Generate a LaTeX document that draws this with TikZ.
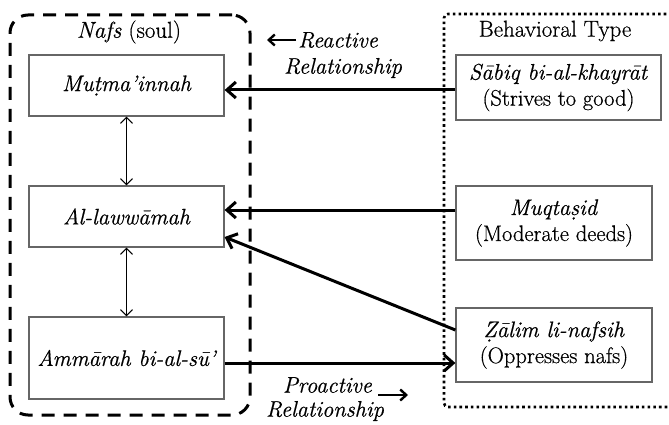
\documentclass[tikz,border=0pt]{standalone}
\usepackage{fontspec}
\setmainfont{Latin Modern Roman}[FakeBold=0.6]
\usetikzlibrary{arrows.meta}
\begin{document}
\begin{tikzpicture}[x=1pt,y=-1pt,
  txt/.style={font=\fontsize{23}{26}\selectfont, inner sep=0pt, align=center},
  soulbox/.style={draw=black!60, line width=1.2pt, minimum width=195pt, inner sep=0pt,
    font=\fontsize{22.5}{25}\selectfont\itshape, align=center},
  typebox/.style={draw=black!60, line width=1.2pt, minimum width=196pt, minimum height=74pt,
    inner sep=0pt, font=\fontsize{22.5}{26}\selectfont, align=center},
  strong/.style={line width=3pt, -{Straight Barb[length=9pt,width=16pt,line width=3pt]}},
  thin/.style={line width=1.1pt, {Straight Barb[length=6pt,width=12pt]}-{Straight Barb[length=6pt,width=12pt]}},
  nafsframe/.style={draw, line width=3pt, dash pattern=on 13pt off 9pt, rounded corners=18pt,
    minimum width=240pt, minimum height=400pt},
  typeframe/.style={line width=2.6pt, dash pattern=on 2.6pt off 3.1pt, rounded corners=4pt},
  rel/.style={txt, font=\fontsize{22.5}{25}\selectfont\itshape}
]
\useasboundingbox (0,0) rectangle (669,425);

% containers
\node[nafsframe] (nafsbox) at (130,215) {};
\coordinate (tfTR) at (672,14);
\coordinate (tfTL) at (444,14);
\coordinate (tfBL) at (444,407);
\coordinate (tfBR) at (672,407);
\draw[typeframe] (tfTR) -- (tfTL) -- (tfBL) -- (tfBR);

% titles
\node[txt] (nafstitle) at (129,32) {\textit{Nafs} (soul)};
\node[txt] (typetitle) at (555,31) {Behavioral Type};

% soul boxes
\node[soulbox, minimum height=61pt] (mut) at (126.5,85.5) {Muṭma’innah};
\node[soulbox, minimum height=61pt] (law) at (126.5,216.5) {Al-lawwāmah};
\node[soulbox, minimum height=82pt] (amm) at (126.5,358) {Ammārah bi-al-sū’};

% type boxes
\node[typebox, minimum width=205pt, minimum height=65pt] (sab) at (558.5,87.5)
  {\textit{Sābiq bi-al-khayrāt}\\(Strives to good)};
\node[typebox] (muq) at (554,223) {\textit{Muqtaṣid}\\(Moderate deeds)};
\node[typebox] (zal) at (554,345) {\textit{Ẓālim li-nafsih}\\(Oppresses nafs)};

% vertical relations
\draw[thin] (mut.south) -- (law.north);
\draw[thin] (law.south) -- (amm.north);

% strong relations
\draw[strong] (sab.west |- 0,90) -- (mut.east |- 0,90);
\draw[strong] (muq.west |- 0,210) -- (law.east |- 0,210);
\draw[strong] (zal.west |- 0,330) -- (law.east |- 0,237);
\draw[strong] (amm.east |- 0,363) -- (zal.west |- 0,363);

% relationship labels
\node[rel, anchor=west] (reac) at (298,40) {Reactive};
\node[rel] (reacrel) at (343,68) {Relationship};
\coordinate (raS) at (296,40);
\coordinate (raE) at (267,40);
\draw[line width=2.4pt, -{Straight Barb[length=6pt,width=11pt]}] (raS) -- (raE);

\node[rel, anchor=east] (proa) at (372,385) {Proactive};
\node[rel] (proarel) at (325,411) {Relationship};
\coordinate (paS) at (378,395);
\coordinate (paE) at (408,395);
\draw[line width=2.4pt, -{Straight Barb[length=6pt,width=11pt]}] (paS) -- (paE);
\end{tikzpicture}
\end{document}
